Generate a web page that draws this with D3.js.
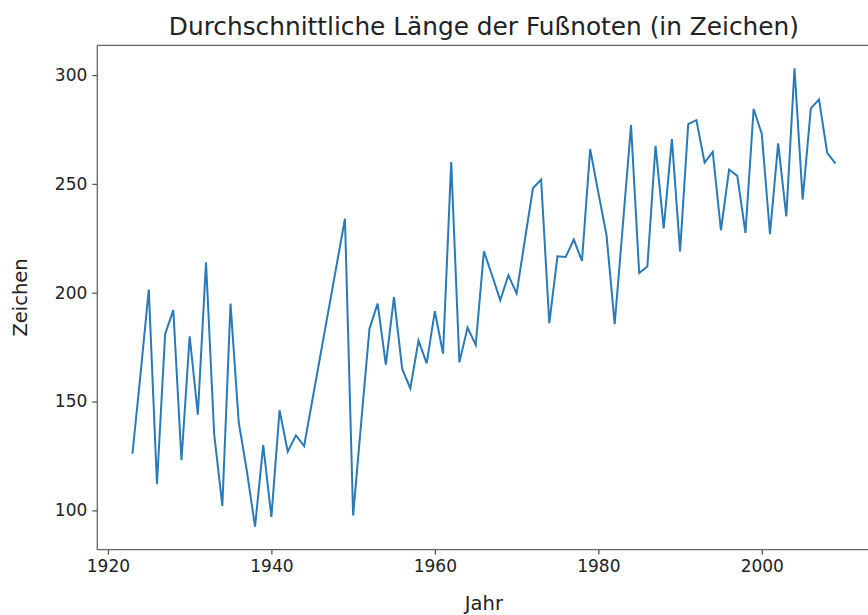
<!DOCTYPE html>
<html><head><meta charset="utf-8">
<script src="https://cdn.jsdelivr.net/npm/d3@7"></script>
<style>
html,body{margin:0;padding:0;background:#fff;}
text{font-family:"DejaVu Sans",sans-serif;fill:#222;}
</style></head>
<body>
<svg id="c" width="868" height="615"></svg>
<script>
const years = [1923,1924,1925,1926,1927,1928,1929,1930,1931,1932,1933,1934,1935,1936,1937,1938,1939,1940,1941,1942,1943,1944,
1949,1950,1951,1952,1953,1954,1955,1956,1957,1958,1959,1960,1961,1962,1963,1964,1965,1966,1967,1968,1969,1970,1971,1972,1973,1974,1975,1976,1977,1978,1979,
1980,1981,1982,1983,1984,1985,1986,1987,1988,1989,1990,1991,1992,1993,1994,1995,1996,1997,1998,1999,2000,2001,2002,2003,2004,2005,2006,2007,2008,2009];
const values = [126,163,201.5,112,181,192,123,180,144,214,135,102,195,140.5,118,92.5,130,97,146,127,134.5,129.5,
234,97.6,141,183.5,195,167,198,165,156,178,167.5,191.5,172,260,168,184,176,219,208,196.5,208,199.6,224,248,252,186,216.7,216.4,224.4,214.6,266,
246,226.5,185.5,231,277,209,212,267.5,229.5,270.6,219,277.5,279.3,259.8,264.7,228.7,256.6,253.7,227.5,284.4,272.9,226.9,268.6,235.1,303.1,242.8,284.7,288.8,264.3,259.4];
const xTicks = [1920,1940,1960,1980,2000];
const yTicks = [100,150,200,250,300];
const title = "Durchschnittliche Länge der Fußnoten (in Zeichen)";
const xLabel = "Jahr", yLabel = "Zeichen";

const data = years.map((y,i)=>({year:y,value:values[i]}));
const svg = d3.select("#c");
const L=97.3, R=870.5, T=45.4, B=549.6;
function pad(ext){const r=ext[1]-ext[0];return [ext[0]-0.05*r, ext[1]+0.05*r];}
const x = d3.scaleLinear().domain(pad(d3.extent(years))).range([L,R]);
const y = d3.scaleLinear().domain(pad(d3.extent(values))).range([B,T]);

svg.append("rect").attr("width",868).attr("height",615).attr("fill","#fff");

const line = d3.line().x(d=>x(d.year)).y(d=>y(d.value));
svg.append("path").datum(data).attr("d",line).attr("fill","none")
  .attr("stroke","#2a7ab8").attr("stroke-width",2).attr("stroke-linejoin","miter");

const xa = svg.append("g").attr("transform",`translate(0,${B})`)
  .call(d3.axisBottom(x).tickValues(xTicks).tickFormat(d3.format("d")).tickSize(5).tickPadding(5));
const ya = svg.append("g").attr("transform",`translate(${L},0)`)
  .call(d3.axisLeft(y).tickValues(yTicks).tickSize(5).tickPadding(5));
[xa,ya].forEach(g=>{
  g.select(".domain").remove();
  g.selectAll(".tick line").attr("stroke","#555").attr("stroke-width",1.3);
  g.selectAll(".tick text").attr("font-size",17).attr("fill","#222").style("font-family","DejaVu Sans");
});

svg.append("rect").attr("x",L).attr("y",T).attr("width",R-L).attr("height",B-T)
  .attr("fill","none").attr("stroke","#666").attr("stroke-width",1.3);

svg.append("text").attr("x",(L+R)/2).attr("y",35).attr("text-anchor","middle")
  .attr("font-size",24.8).text(title);
svg.append("text").attr("x",(L+R)/2).attr("y",610).attr("text-anchor","middle")
  .attr("font-size",19.5).text(xLabel);
svg.append("text").attr("transform",`translate(27,${(T+B)/2}) rotate(-90)`).attr("text-anchor","middle")
  .attr("font-size",19.5).text(yLabel);
</script>
</body></html>
